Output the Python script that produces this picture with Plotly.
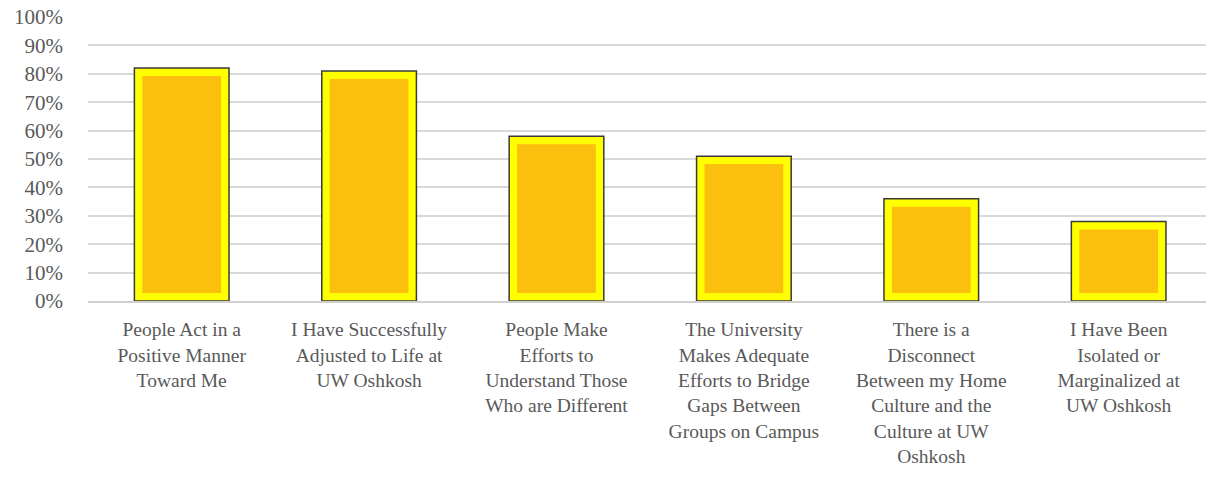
import plotly.graph_objects as go

categories = [
    "People Act in a<br>Positive Manner<br>Toward Me",
    "I Have Successfully<br>Adjusted to Life at<br>UW Oshkosh",
    "People Make<br>Efforts to<br>Understand Those<br>Who are Different",
    "The University<br>Makes Adequate<br>Efforts to Bridge<br>Gaps Between<br>Groups on Campus",
    "There is a<br>Disconnect<br>Between my Home<br>Culture and the<br>Culture at UW<br>Oshkosh",
    "I Have Been<br>Isolated or<br>Marginalized at<br>UW Oshkosh",
]
values = [0.82, 0.81, 0.58, 0.51, 0.36, 0.28]
ytick_vals = [0, 0.1, 0.2, 0.3, 0.4, 0.5, 0.6, 0.7, 0.8, 0.9, 1.0]

# style constants
INSET = 0.028          # bevel thickness in axis units
FONT = "'Liberation Serif', 'Times New Roman', serif"
TXT = "#595959"

x = list(range(len(categories)))
inner = [v - INSET for v in values]

fig = go.Figure()
fig.add_trace(go.Bar(
    x=x, y=values, width=0.505,
    marker=dict(color="#FFFF00", line=dict(color="#3A3A3A", width=1.5)),
    hoverinfo="skip", showlegend=False,
))
fig.add_trace(go.Bar(
    x=x, y=[v - INSET for v in inner], base=[INSET] * len(x), width=0.42,
    marker=dict(color="#FBBF0E", line=dict(width=0)),
    hoverinfo="skip", showlegend=False,
))

fig.update_layout(
    width=1206, height=495,
    margin=dict(l=88, r=0, t=17, b=194, autoexpand=False),
    barmode="overlay",
    plot_bgcolor="white", paper_bgcolor="white",
    font=dict(family=FONT, color=TXT, size=19.5),
)
fig.update_xaxes(
    range=[-0.5, 5.466],
    tickvals=x, ticktext=categories,
    tickfont=dict(family=FONT, size=19.5, color=TXT),
    showgrid=False, zeroline=False,
    showline=True, linecolor="#D0D0D0", linewidth=2,
    ticks="", ticklabelstandoff=10, automargin=False,
)
fig.update_yaxes(
    range=[0, 1],
    tickvals=ytick_vals, tickformat=".0%",
    tickfont=dict(family=FONT, size=21, color=TXT),
    showgrid=True, gridcolor="#D9D9D9", gridwidth=1.5,
    zeroline=False, showline=False, ticks="",
    ticklabelstandoff=24, automargin=False,
)

fig.write_html(
    "out.html",
    config={"displayModeBar": False},
    post_script="document.body.style.margin='0';document.body.style.overflow='hidden';",
)
